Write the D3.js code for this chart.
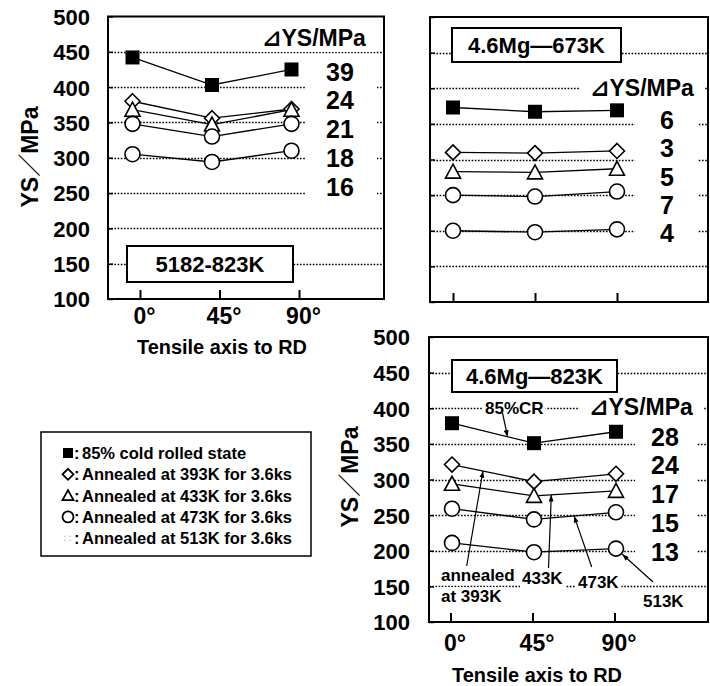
<!DOCTYPE html>
<html>
<head>
<meta charset="utf-8">
<script src="https://cdn.jsdelivr.net/npm/d3@7"></script>
<style>
  body { margin: 0; background: #fff; }
  svg { display: block; }
  text { font-family: "Liberation Sans", Arial, "DejaVu Sans", "Noto Sans CJK JP", sans-serif; font-weight: bold; fill: #000; }
</style>
</head>
<body>
<svg id="chart" width="710" height="686"></svg>
<script>
// ---- data ---------------------------------------------------------------
const angles = [0, 45, 90];
const angleLabels = ["0°", "45°", "90°"];
const yTicks = [100, 150, 200, 250, 300, 350, 400, 450, 500];
const seriesLabels = [
  "85% cold rolled state",
  "Annealed at 393K for 3.6ks",
  "Annealed at 433K for 3.6ks",
  "Annealed at 473K for 3.6ks",
  "Annealed at 513K for 3.6ks"
];
const seriesSymbols = ["square", "diamond", "triangle", "circle", "circle"];

// yield strength (MPa) at 0°, 45°, 90° to RD, one row per state
const ys5182at823K = [[442, 403, 425], [380, 356, 369], [368, 347, 368], [348, 330, 348], [305, 294, 310]];
const dys5182at823K = [39, 24, 21, 18, 16];

const ys46Mgat673K = [[373, 367, 369], [310, 309, 312], [283, 282, 287], [250, 248, 255], [200, 198, 202]];
const dys46Mgat673K = [6, 3, 5, 7, 4];

const ys46Mgat823K = [[379, 351, 367], [321, 297, 308], [294, 277, 284], [259, 244, 254], [211, 198, 203]];
const dys46Mgat823K = [28, 24, 17, 15, 13];

// ---- layout -------------------------------------------------------------
const panels = [
  { title: "5182-823K", values: ys5182at823K, deltas: dys5182at823K,
    frame: { x0: 108, x1: 384, y0: 16.5, y1: 299 }, xr: [132.5, 291.5], tickShift: 7.5,
    yLabels: true, xLabels: true, yPad: 18, xPad: 9,
    titleBox: { x0: 127, x1: 293, y0: 246, y1: 282 },
    dHead: { x: 314, y: 38 }, dCol: { x: 340, y0: 71.7, step: 28.75, l: 305, r: 377 },
    xTitle: { x: 222, y: 354 }, yTitle: { x: 30, y: 157 } },
  { title: "4.6Mg—673K", values: ys46Mgat673K, deltas: dys46Mgat673K,
    frame: { x0: 430, x1: 708, y0: 17, y1: 302 }, xr: [453, 617], tickShift: 0,
    yLabels: false, xLabels: false, yPad: 18, xPad: 10,
    titleBox: { x0: 452, x1: 621, y0: 28, y1: 62 },
    dHead: { x: 642, y: 88 }, dCol: { x: 667, y0: 120, step: 28.3, l: 635, r: 698 } },
  { title: "4.6Mg—823K", values: ys46Mgat823K, deltas: dys46Mgat823K,
    frame: { x0: 429, x1: 708, y0: 337, y1: 622 }, xr: [452, 616], tickShift: -1.5,
    yLabels: true, xLabels: true, yPad: 19, xPad: 13,
    titleBox: { x0: 452, x1: 617, y0: 360, y1: 392 },
    dHead: { x: 641, y: 407 }, dCol: { x: 665, y0: 436.7, step: 28.75, l: 635, r: 697 },
    xTitle: { x: 537, y: 682 }, yTitle: { x: 350, y: 477 },
    notes: [
      { lines: ["85%CR"], x: 485, y: 414, pad: 2, series: 0, at: 30.5, from: [502.5, 413] },
      { lines: ["annealed", "at 393K"], x: 441, y: 581, pad: 7, series: 1, at: 17, from: [466.7, 566] },
      { lines: ["433K"], x: 522, y: 584, pad: 2, series: 2, at: 54.5, from: [548.5, 568] },
      { lines: ["473K"], x: 578, y: 588, pad: 2, series: 3, at: 67, from: [591.7, 567] },
      { lines: ["513K"], x: 643, y: 607, pad: 2, series: 4, at: 90, from: [653, 582], toMarker: true }
    ] }
];

const svg = d3.select("#chart");

svg.append("defs").append("marker")
  .attr("id", "arrowhead").attr("viewBox", "0 0 8 6")
  .attr("refX", 8).attr("refY", 3)
  .attr("markerWidth", 7).attr("markerHeight", 5)
  .attr("markerUnits", "userSpaceOnUse").attr("orient", "auto")
  .append("path").attr("d", "M0,0L8,3L0,6Z").attr("fill", "#000");

function drawSymbol(g, type, cx, cy, h, sw) {
  if (type === "square") {
    g.append("rect").attr("x", cx - h).attr("y", cy - h)
      .attr("width", 2 * h).attr("height", 2 * h).attr("fill", "#000");
  } else if (type === "diamond") {
    const d = h + 0.5;
    g.append("path").attr("d", `M${cx},${cy - d}L${cx + d},${cy}L${cx},${cy + d}L${cx - d},${cy}Z`)
      .attr("fill", "#fff").attr("stroke", "#000").attr("stroke-width", sw);
  } else if (type === "triangle") {
    const d = h + 0.5;
    g.append("path").attr("d", `M${cx},${cy - d}L${cx + d},${cy + d - 1}L${cx - d},${cy + d - 1}Z`)
      .attr("fill", "#fff").attr("stroke", "#000").attr("stroke-width", sw);
  } else {
    g.append("circle").attr("cx", cx).attr("cy", cy).attr("r", h + 0.5)
      .attr("fill", "#fff").attr("stroke", "#000").attr("stroke-width", sw);
  }
}

function addText(g, x, y, str, size, anchor) {
  return g.append("text").attr("x", x).attr("y", y)
    .attr("font-size", size).attr("text-anchor", anchor || "start").text(str);
}

function backing(bg, t, px, py) {
  const b = t.node().getBBox();
  bg.append("rect").attr("x", b.x - px).attr("y", b.y - py)
    .attr("width", b.width + 2 * px).attr("height", b.height + 2 * py).attr("fill", "#fff");
}

panels.forEach(p => {
  const f = p.frame;
  const x = d3.scaleLinear().domain([0, 90]).range(p.xr);
  const xTick = d3.scaleLinear().domain([0, 90]).range(p.xr.map(v => v + p.tickShift));
  const y = d3.scaleLinear().domain([100, 500]).range([f.y1, f.y0]);

  const root = svg.append("g");
  const gridG = root.append("g");
  const bgG = root.append("g");
  const dataG = root.append("g");
  const arrowG = root.append("g");
  const frameG = root.append("g");
  const textG = root.append("g");

  // dotted grid
  gridG.selectAll("line").data(yTicks.filter(v => v > 100 && v < 500)).join("line")
    .attr("x1", f.x0).attr("x2", f.x1)
    .attr("y1", d => Math.round(y(d)) + 0.5).attr("y2", d => Math.round(y(d)) + 0.5)
    .attr("stroke", "#000").attr("stroke-width", 1.3).attr("stroke-dasharray", "1.6,1.6");

  // white column behind the ΔYS values
  bgG.append("rect").attr("x", p.dCol.l).attr("width", p.dCol.r - p.dCol.l)
    .attr("y", p.dCol.y0 - 14).attr("height", p.dCol.step * (p.deltas.length - 1) + 28)
    .attr("fill", "#fff");

  // series lines + markers
  const line = d3.line().x((d, i) => x(angles[i])).y(d => y(d));
  p.values.forEach(vals => {
    dataG.append("path").attr("d", line(vals)).attr("fill", "none")
      .attr("stroke", "#000").attr("stroke-width", 1.3);
  });
  p.values.forEach((vals, si) => {
    vals.forEach((v, i) => drawSymbol(dataG, seriesSymbols[si], x(angles[i]), y(v), 7, 1.6));
  });

  // frame and axes
  frameG.append("rect").attr("x", f.x0).attr("y", f.y0)
    .attr("width", f.x1 - f.x0).attr("height", f.y1 - f.y0)
    .attr("fill", "none").attr("stroke", "#000").attr("stroke-width", 2);

  const yAxis = d3.axisLeft(y).tickValues(yTicks).tickSize(-5).tickPadding(p.yPad)
    .tickFormat(p.yLabels ? d3.format("d") : () => "");
  const ya = frameG.append("g").attr("transform", `translate(${f.x0},0)`).call(yAxis);
  ya.select(".domain").remove();
  ya.selectAll("line").attr("stroke-width", 1.5);
  ya.selectAll("text").attr("font-size", 22).attr("dy", "0.36em");
  ya.attr("font-family", null).attr("font-size", null);

  const xAxis = d3.axisBottom(xTick).tickValues(angles).tickSize(-9).tickPadding(p.xPad)
    .tickFormat((d, i) => p.xLabels ? angleLabels[i] : "");
  const xa = frameG.append("g").attr("transform", `translate(0,${f.y1})`).call(xAxis);
  xa.select(".domain").remove();
  xa.selectAll("line").attr("stroke-width", 2);
  xa.selectAll("text").attr("font-size", 23).attr("dx", 4);
  xa.attr("font-family", null).attr("font-size", null);

  // panel title box
  const tb = p.titleBox;
  frameG.append("rect").attr("x", tb.x0).attr("y", tb.y0)
    .attr("width", tb.x1 - tb.x0).attr("height", tb.y1 - tb.y0)
    .attr("fill", "#fff").attr("stroke", "#000").attr("stroke-width", 2);
  addText(textG, (tb.x0 + tb.x1) / 2, (tb.y0 + tb.y1) / 2 + 8, p.title, 22, "middle");

  // ΔYS header and values
  const head = addText(textG, p.dHead.x, p.dHead.y + 8, "⊿YS/MPa", 23, "middle");
  backing(bgG, head, 10, 1);
  p.deltas.forEach((d, i) => {
    addText(textG, p.dCol.x, p.dCol.y0 + i * p.dCol.step + 9, String(d), 25, "middle");
  });

  // axis titles
  if (p.xTitle) {
    addText(textG, p.xTitle.x, p.xTitle.y, "Tensile axis to RD", 21, "middle")
      .attr("textLength", 170).attr("lengthAdjust", "spacingAndGlyphs");
  }
  if (p.yTitle) {
    addText(textG, 0, 0, "YS／MPa", 23, "middle")
      .attr("transform", `translate(${p.yTitle.x + 8},${p.yTitle.y}) rotate(-90)`);
  }

  // callouts
  (p.notes || []).forEach(n => {
    n.lines.forEach((s, k) => {
      const t = addText(textG, n.x, n.y + k * 21, s, 17, "start");
      backing(bgG, t, n.pad, 0);
    });
    const vals = p.values[n.series];
    const vAt = d3.scaleLinear().domain(angles).range(vals)(n.at);
    let tx = x(n.at), ty = y(vAt);
    if (n.toMarker) {
      const dx = n.from[0] - tx, dy = n.from[1] - ty, len = Math.hypot(dx, dy);
      tx += dx / len * 8.5; ty += dy / len * 8.5;
    }
    arrowG.append("line").attr("x1", n.from[0]).attr("y1", n.from[1])
      .attr("x2", tx).attr("y2", ty)
      .attr("stroke", "#000").attr("stroke-width", 1.2)
      .attr("marker-end", "url(#arrowhead)");
  });
});

// ---- legend ---------------------------------------------------------------
const lg = svg.append("g");
lg.append("rect").attr("x", 41).attr("y", 432).attr("width", 270).attr("height", 124)
  .attr("fill", "#fff").attr("stroke", "#000").attr("stroke-width", 1.5);
seriesLabels.forEach((s, i) => {
  const cy = 453 + i * 21.3;
  if (i < 4) {
    drawSymbol(lg, seriesSymbols[i], 68, cy, 5, 1.8);
  } else {
    [[65, cy - 2], [70, cy - 2], [65, cy + 2], [70, cy + 2]].forEach(([a, b]) =>
      lg.append("circle").attr("cx", a).attr("cy", b).attr("r", 0.8).attr("fill", "#bbb"));
  }
  addText(lg, 74, cy + 6, ":", 16.5, "start");
  addText(lg, 82, cy + 6, s, 16.5, "start");
});
</script>
</body>
</html>
